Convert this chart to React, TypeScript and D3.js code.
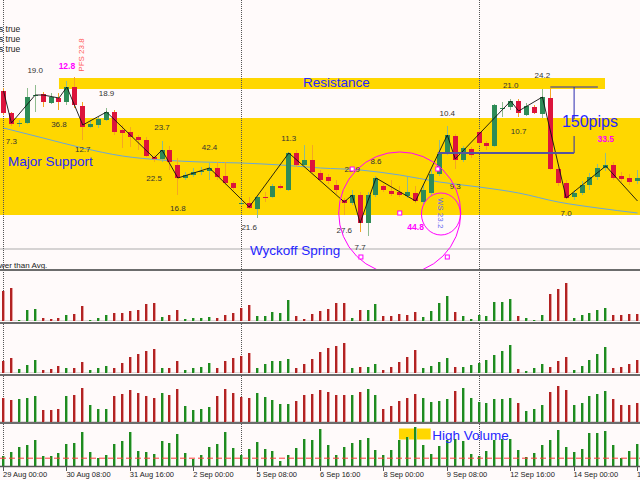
import React from "react";
import * as d3 from "d3";

// ---------------- data ----------------
const timeLabels = ["29 Aug 00:00", "30 Aug 08:00", "31 Aug 16:00", "2 Sep 00:00", "5 Sep 08:00", "6 Sep 16:00", "8 Sep 00:00", "9 Sep 08:00", "12 Sep 16:00", "14 Sep 00:00", "15 Sep 08:00"];
const timeLabelBars = [0, 8, 16, 24, 32, 40, 48, 56, 64, 72, 80];
const weekSeparatorBars = [0, 30, 60];

const openPrice = [
  1.3358, 1.3314, 1.3292, 1.3294, 1.3348, 1.3352, 1.3334, 1.3344, 1.3336, 1.3366,
  1.3328, 1.3286, 1.3290, 1.3300, 1.3316, 1.3280, 1.3276, 1.3266, 1.3260, 1.3226,
  1.3222, 1.3240, 1.3210, 1.3184, 1.3190, 1.3196, 1.3198, 1.3204, 1.3188, 1.3174,
  1.3132, 1.3134, 1.3122, 1.3146, 1.3146, 1.3168, 1.3160, 1.3234, 1.3210, 1.3220,
  1.3194, 1.3186, 1.3170, 1.3140, 1.3134, 1.3150, 1.3094, 1.3150, 1.3168, 1.3158,
  1.3156, 1.3148, 1.3154, 1.3136, 1.3154, 1.3192, 1.3234, 1.3268, 1.3220, 1.3242,
  1.3276, 1.3254, 1.3248, 1.3322, 1.3326, 1.3338, 1.3310, 1.3326, 1.3312, 1.3344,
  1.3202, 1.3174, 1.3146, 1.3154, 1.3170, 1.3186, 1.3204, 1.3210, 1.3188, 1.3184,
  1.3178,
];
const highPrice = [
  1.3364, 1.3316, 1.3300, 1.3364, 1.3370, 1.3356, 1.3354, 1.3354, 1.3378, 1.3386,
  1.3336, 1.3300, 1.3306, 1.3324, 1.3320, 1.3290, 1.3286, 1.3270, 1.3266, 1.3230,
  1.3258, 1.3248, 1.3224, 1.3196, 1.3204, 1.3206, 1.3216, 1.3216, 1.3216, 1.3178,
  1.3140, 1.3146, 1.3148, 1.3156, 1.3172, 1.3172, 1.3236, 1.3240, 1.3250, 1.3250,
  1.3200, 1.3192, 1.3180, 1.3144, 1.3160, 1.3156, 1.3156, 1.3188, 1.3172, 1.3180,
  1.3168, 1.3186, 1.3168, 1.3170, 1.3200, 1.3260, 1.3288, 1.3272, 1.3248, 1.3246,
  1.3280, 1.3258, 1.3332, 1.3336, 1.3342, 1.3342, 1.3334, 1.3330, 1.3362, 1.3364,
  1.3206, 1.3180, 1.3160, 1.3178, 1.3194, 1.3212, 1.3234, 1.3216, 1.3196, 1.3192,
  1.3200,
];
const lowPrice = [
  1.3310, 1.3288, 1.3286, 1.3292, 1.3316, 1.3326, 1.3332, 1.3320, 1.3330, 1.3324,
  1.3260, 1.3284, 1.3284, 1.3298, 1.3270, 1.3244, 1.3246, 1.3240, 1.3226, 1.3216,
  1.3216, 1.3200, 1.3150, 1.3180, 1.3186, 1.3190, 1.3180, 1.3180, 1.3170, 1.3160,
  1.3130, 1.3122, 1.3104, 1.3136, 1.3144, 1.3162, 1.3158, 1.3206, 1.3206, 1.3194,
  1.3176, 1.3172, 1.3152, 1.3110, 1.3130, 1.3076, 1.3068, 1.3146, 1.3156, 1.3148,
  1.3146, 1.3144, 1.3134, 1.3132, 1.3150, 1.3188, 1.3230, 1.3202, 1.3216, 1.3224,
  1.3248, 1.3240, 1.3246, 1.3306, 1.3320, 1.3306, 1.3308, 1.3312, 1.3304, 1.3200,
  1.3168, 1.3142, 1.3140, 1.3150, 1.3160, 1.3180, 1.3198, 1.3180, 1.3176, 1.3170,
  1.3172,
];
const closePrice = [
  1.3314, 1.3292, 1.3294, 1.3346, 1.3350, 1.3336, 1.3346, 1.3336, 1.3366, 1.3330,
  1.3286, 1.3292, 1.3302, 1.3316, 1.3276, 1.3274, 1.3266, 1.3260, 1.3228, 1.3222,
  1.3240, 1.3216, 1.3184, 1.3190, 1.3196, 1.3198, 1.3204, 1.3186, 1.3174, 1.3164,
  1.3134, 1.3124, 1.3146, 1.3144, 1.3168, 1.3164, 1.3234, 1.3210, 1.3220, 1.3196,
  1.3180, 1.3178, 1.3160, 1.3134, 1.3150, 1.3094, 1.3150, 1.3184, 1.3160, 1.3152,
  1.3150, 1.3156, 1.3138, 1.3160, 1.3192, 1.3232, 1.3270, 1.3220, 1.3244, 1.3230,
  1.3254, 1.3248, 1.3330, 1.3324, 1.3338, 1.3314, 1.3328, 1.3314, 1.3346, 1.3202,
  1.3174, 1.3144, 1.3154, 1.3170, 1.3186, 1.3204, 1.3210, 1.3184, 1.3182, 1.3176,
  1.3184,
];

// moving average read at every 5th bar
const maBars = [0, 5, 10, 15, 20, 25, 30, 35, 40, 45, 50, 55, 60, 65, 70, 75, 80];
const maValues = [1.3284, 1.3264, 1.3244, 1.3228, 1.3220, 1.3216, 1.3214, 1.3210, 1.3204, 1.3200, 1.3190, 1.3176, 1.3166, 1.3154, 1.3136, 1.3124, 1.3114];

// zigzag pivots
const zigBars = [0, 1, 4, 5, 7, 8, 10, 13, 19, 20, 22, 26, 31, 36, 43, 44, 45, 47, 52, 56, 57, 64, 65, 68, 71, 76, 80];
const zigPrices = [1.3358, 1.3294, 1.3350, 1.3350, 1.3344, 1.3366, 1.3290, 1.3316, 1.3224, 1.3240, 1.3184, 1.3204, 1.3126, 1.3234, 1.3136, 1.3150, 1.3094, 1.3184, 1.3138, 1.3270, 1.3222, 1.3338, 1.3318, 1.3346, 1.3144, 1.3208, 1.3138];

// wave volume labels: text, bar, price, highlighted
const waveLabelText = ["19.0", "12.8", "7.3", "36.8", "18.9", "12.7", "23.7", "22.5", "42.4", "16.8", "21.6", "11.3", "23.9", "8.6", "27.6", "7.7", "44.8", "10.4", "9.3", "21.0", "10.7", "24.2", "7.0", "33.5"];
const waveLabelBar = [4, 8, 1, 7, 13, 10, 20, 19, 26, 22, 31, 36, 44, 47, 43, 45, 52, 56, 57, 64, 65, 68, 71, 76];
const waveLabelPrice = [1.34, 1.3408, 1.3258, 1.3292, 1.3354, 1.3242, 1.3286, 1.3184, 1.3246, 1.3124, 1.3086, 1.3264, 1.3202, 1.3218, 1.308, 1.3046, 1.3086, 1.3314, 1.3168, 1.337, 1.3278, 1.339, 1.3114, 1.3262];
const waveLabelHot = [0, 1, 0, 0, 0, 0, 0, 0, 0, 0, 0, 0, 0, 0, 0, 0, 1, 0, 0, 0, 0, 0, 0, 1];

// volume sub-panels (positive = up bar, negative = down bar)
const vol1 = [
  -30, -33, 0.7, 10.7, 11.7, -3, -1.7, -3.3, 5.7, -6.7,
  -15, 1.3, 2.7, 5.7, -7.7, -8, -9.7, -10.7, -17, -18,
  3.7, -6, -10.7, 1.7, 3.3, 3.3, 3.7, -2.7, -5.7, -7.7,
  -12.7, -15.7, 4.7, 4.7, 8.7, 7.7, 20.7, -4.7, -2.3, -7.3,
  -10, -12.3, -18.3, -18.3, 3.3, -10.7, 10.7, 17.3, -4.7, -5.3,
  -6.7, -5.7, -8.7, 3.7, 10, 17.7, 24.7, -9.3, 4.7, 2.3,
  6.3, 5.3, 19.3, 19.3, 22.3, -4.7, 2.7, 0.7, 5.7, -26.7,
  -31.7, -37.7, 2.7, 5.7, 8.3, 11.3, 12.7, -5.7, -5.7, -6.7,
  -6.7,
];
const vol2 = [
  -12.5, -15.2, 4.2, 8.5, 13.5, -3.2, -4.2, -6.8, 5.2, -5.2,
  -11.5, 3.2, 5.2, 7.2, -5.2, -9.8, -15.8, -19.2, -21.8, -24.2,
  5.2, -5.2, -11.8, 3.5, 4.5, 6.5, 10.5, -5.2, -11.8, -14.8,
  -17.5, -20.2, 5.5, 9.2, 11.8, 12.5, 14.5, -4.5, -9.2, -13.8,
  -20.8, -25.2, -27.2, -30.5, 5.2, -5.8, 6.5, 9.2, -3.2, -5.8,
  -11.2, -15.8, -23.2, 5.2, 6.8, 11.2, 15.5, -5.8, 6.5, 8.2,
  10.5, 13.2, 17.8, 22.5, 27.8, -3.8, 2.5, 4.8, 8.8, -6.5,
  -12.5, -15.8, 3.5, 7.2, 13.2, 19.2, 26.2, -4.8, -6.5, -9.2,
  -13.5,
];
const vol3 = [
  -24, -21.7, 22.7, 24, 26, -11.7, -11.7, -12.7, 26, -27,
  -33.7, 17, 13, 13, -26, -27.7, -32, -28.7, -26, -24,
  29, -27, -32.7, 16, 12, 12.7, 14.7, -26, -32.7, -28.7,
  -25, -24, 28.7, 24.7, 22, 18, 18, -21, -27, -27.7,
  -31.7, -30, -27.3, -27, 27.3, -30, 33.3, 27.3, -12.7, -16.3,
  -21, -24, -28.3, 24.3, 19.7, 21, 23, -31, 33.7, 24,
  19.7, 19, 23, 23, 24, -19, 10.7, 13.3, 17, -30,
  -36.3, -31.7, 17, 19, 25.7, 28.3, 31, -23, -17, -17,
  -19.3,
];
const vol4 = [
  10, 14.3, 19.3, 21, 26, 10, 10, 12.7, 22, 23.3,
  34.3, 14, 7.7, 11, 22, 25, 34.3, 15.3, 14.3, 12,
  25, 23.3, 32.3, 12.7, 6.7, 11, 19, 22, 34, 17.7,
  10.7, 17, 24.3, 17, 15, 5.3, 11, 18, 27, 26,
  37, 21, 11, 18.7, 23.3, 26, 28, 16, 11, 16,
  26, 29.3, 38.7, 20.7, 12.3, 20, 26, 27, 25, 12,
  10, 15, 26, 26.7, 27, 16, 9, 12.7, 21, 26,
  36, 18.7, 14.3, 17, 33, 33.3, 35, 20.7, 7.7, 15,
  22,
];
const vol4Average = 7.8;

// annotation anchors (bar, price)
const resistanceBars = [7.0, 75.9];
const resistancePrices = [1.3362, 1.3384];
const supportPrices = [1.311, 1.3304];
const springLinePrice = 1.3042;
const bracketTopPrice = 1.3366;
const bracketBottomPrice = 1.3234;
const bracketTextGap = [1.3302, 1.3268];
const springCircle = [50, 1.3114];
const springMarkerBars = [44, 54.8, 50, 45.1, 56];
const springMarkerPrices = [1.3202, 1.3202, 1.3114, 1.3026, 1.3026];
const wsEllipse = [55.2, 1.3112];

const FONT = "'Liberation Sans', Arial, Helvetica, sans-serif";

export default function App() {
  const W = 640;
  const H = 480;
  const x = d3.scaleLinear().domain([0, 80]).range([3.5, 637.5]);
  const y = d3.scaleLinear().domain([1.3, 1.354]).range([270, 0]);
  const px = (i: number) => Math.floor(x(i));

  const zig = d3
    .line<number>()
    .x((_, k) => x(zigBars[k]))
    .y((p) => y(p))(zigPrices) as string;
  const ma = d3
    .line<number>()
    .x((_, k) => x(maBars[k]))
    .y((p) => y(p))
    .curve(d3.curveMonotoneX)(maValues) as string;

  const panels = [
    { data: vol1, base: 321 },
    { data: vol2, base: 373 },
    { data: vol3, base: 422 },
    { data: vol4, base: 466 },
  ];
  const separators = [270, 323, 375, 423];

  const blue = "#2626ff";
  const magenta = "#ff00ff";
  const circleR = x(57.7) - x(50);

  const p4 = d3.scaleLinear().domain([0, 40]).range([466, 426]);

  return (
    <svg width={W} height={H} style={{ position: "absolute", left: 0, top: 0, display: "block" }} fontFamily={FONT}>
      <defs>
        <clipPath id="mainClip">
          <rect x={0} y={0} width={W} height={269} />
        </clipPath>
      </defs>
      <rect x={0} y={0} width={W} height={H} fill="#fffafa" />

      <g clipPath="url(#mainClip)">
        {/* bands */}
        <rect x={0} y={y(supportPrices[1])} width={W} height={y(supportPrices[0]) - y(supportPrices[1])} fill="#ffd700" />
        <rect
          x={x(resistanceBars[0])}
          y={y(resistancePrices[1])}
          width={x(resistanceBars[1]) - x(resistanceBars[0])}
          height={y(resistancePrices[0]) - y(resistancePrices[1])}
          fill="#ffd700"
        />
        <line x1={0} x2={W} y1={y(springLinePrice)} y2={y(springLinePrice)} stroke="#d6d3d3" strokeWidth={2} />

        {/* moving average */}
        <path d={ma} fill="none" stroke="#6aa6d8" strokeWidth={1} />
      </g>

      {/* week separators */}
      {weekSeparatorBars.map((b) => (
        <line key={b} x1={px(b) + 0.5} x2={px(b) + 0.5} y1={0} y2={466} stroke="#555" strokeWidth={1} strokeDasharray="1,1" />
      ))}

      <g clipPath="url(#mainClip)">
        {/* candles */}
        {openPrice.map((o, i) => {
          const c = closePrice[i];
          const bull = c >= o;
          const cx = px(i);
          const top = Math.round(y(Math.max(o, c)));
          const bot = Math.round(y(Math.min(o, c)));
          return (
            <g key={i}>
              <rect x={cx} y={y(highPrice[i])} width={1} height={y(lowPrice[i]) - y(highPrice[i])} fill={bull ? "#8fbc8f" : "#f5a623"} />
              <rect x={cx - 2} y={top} width={5} height={Math.max(1, bot - top)} fill={bull ? "#2e8b57" : "#dc143c"} />
            </g>
          );
        })}

        {/* zigzag */}
        <path d={zig} fill="none" stroke="#111" strokeWidth={0.9} />

        {/* wave labels */}
        {waveLabelText.map((t, k) => (
          <text
            key={k}
            x={x(waveLabelBar[k])}
            y={y(waveLabelPrice[k])}
            textAnchor="middle"
            dominantBaseline="central"
            fontSize={waveLabelHot[k] ? 8.5 : 8}
            fontWeight={waveLabelHot[k] ? "bold" : "normal"}
            fill={waveLabelHot[k] ? magenta : "#333"}
          >
            {t}
          </text>
        ))}
        <text
          transform={`translate(${x(9.9)},${y(1.343)}) rotate(-90)`}
          textAnchor="middle"
          dominantBaseline="central"
          fontSize={8}
          fill="#ff5a5a"
        >
          PFS 23.8
        </text>
        <text
          transform={`translate(${x(55.1)},${y(1.3114)}) rotate(90)`}
          textAnchor="middle"
          dominantBaseline="central"
          fontSize={8}
          fill="#6464f0"
        >
          WS 23.2
        </text>

        {/* spring circles */}
        <circle cx={x(springCircle[0])} cy={y(springCircle[1])} r={circleR} fill="none" stroke={magenta} strokeWidth={1} />
        <ellipse cx={x(wsEllipse[0])} cy={y(wsEllipse[1])} rx={x(2.46) - x(0)} ry={y(1.3) - y(1.3042)} fill="none" stroke={magenta} strokeWidth={1} />
        {springMarkerBars.map((b, k) => (
          <rect key={k} x={x(b) - 2} y={y(springMarkerPrices[k]) - 2} width={4} height={4} fill="#fff" stroke={magenta} strokeWidth={1} />
        ))}

        {/* 150 pips bracket */}
        <line x1={x(69)} x2={x(75)} y1={y(bracketTopPrice)} y2={y(bracketTopPrice)} stroke="#2a2ab0" strokeWidth={1} />
        <line x1={x(72)} x2={x(72)} y1={y(bracketTopPrice)} y2={y(bracketTextGap[0])} stroke="#2a2ab0" strokeWidth={1} />
        <line x1={x(72)} x2={x(72)} y1={y(bracketTextGap[1])} y2={y(bracketBottomPrice)} stroke="#2a2ab0" strokeWidth={1} />
        <line x1={x(54.8)} x2={x(72)} y1={y(bracketBottomPrice)} y2={y(bracketBottomPrice)} stroke="#5555a0" strokeWidth={2} />
        <text x={x(74)} y={y(1.3286)} textAnchor="middle" fontSize={16} fill={blue}>
          150pips
        </text>

        {/* big labels */}
        <text x={x(37.8)} y={y(1.3366)} fontSize={13.5} fill={blue}>
          Resistance
        </text>
        <text x={x(0.57)} y={y(1.3208)} fontSize={13.5} fill={blue}>
          Major Support
        </text>
        <text x={x(31.1)} y={y(1.303)} fontSize={13.5} fill={blue}>
          Wyckoff Spring
        </text>

        {/* indicator captions */}
        {[32, 42, 52].map((yy, k) => (
          <text key={k} x={-1} y={yy} fontSize={8.5} fill="#222">
            s true
          </text>
        ))}
        <text x={-1} y={268} fontSize={8} fill="#222">
          wer than Avg.
        </text>
      </g>

      {/* volume panels */}
      <rect x={x(49.9)} y={p4(37.5)} width={x(53.9) - x(49.9)} height={p4(26.5) - p4(37.5)} fill="#ffd700" />
      {panels.map((p, pi) => {
        const ys = d3.scaleLinear().domain([0, 40]).range([p.base, p.base - 40]);
        return (
          <g key={pi}>
            {pi < 3 && <line x1={0} x2={W} y1={p.base - 0.5} y2={p.base - 0.5} stroke="#ddd6d6" strokeWidth={1} />}
            {p.data.map((v, i) => {
              const up = pi === 3 || v >= 0;
              const top = Math.round(ys(Math.abs(v)));
              const cx = px(i);
              return (
                <g key={i}>
                  <rect x={cx - 1} y={top} width={2} height={p.base - top} fill={up ? "#1f8a1f" : "#b22222"} />
                  <rect x={cx + 1} y={top} width={1} height={p.base - top} fill={up ? "#9bd19b" : "#e6a0a0"} />
                </g>
              );
            })}
          </g>
        );
      })}
      <line x1={0} x2={W} y1={p4(vol4Average)} y2={p4(vol4Average)} stroke="#ff3b3b" strokeWidth={1} strokeDasharray="6,3" />
      <text x={x(54.1)} y={p4(26.5)} fontSize={13.5} fill={blue}>
        High Volume
      </text>

      {separators.map((s) => (
        <line key={s} x1={0} x2={W} y1={s} y2={s} stroke="#6c6c6c" strokeWidth={2} />
      ))}

      {/* time axis */}
      <line x1={0} x2={W} y1={466.5} y2={466.5} stroke="#555" strokeWidth={1.5} />
      {timeLabelBars.map((b, k) => (
        <g key={k}>
          <line x1={px(b) + 0.5} x2={px(b) + 0.5} y1={467} y2={471} stroke="#555" strokeWidth={1} />
          <text x={x(b) - 0.5} y={477} fontSize={7.5} fill="#222">
            {timeLabels[k]}
          </text>
        </g>
      ))}
    </svg>
  );
}
